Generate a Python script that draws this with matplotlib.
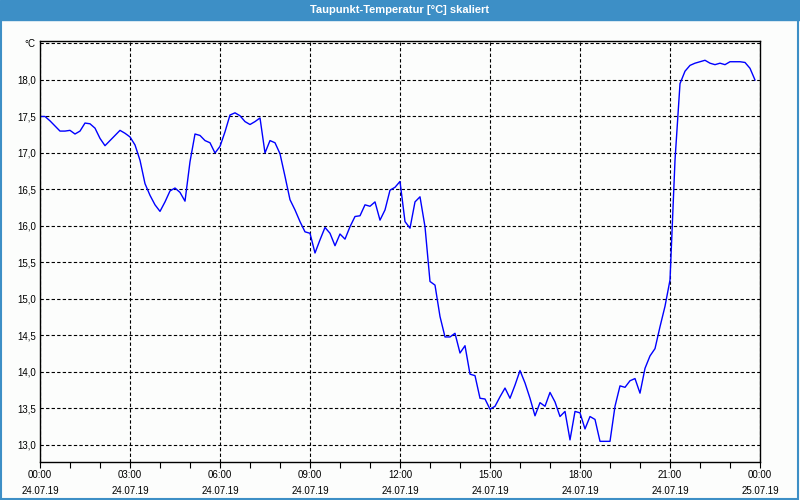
import numpy as np
import pandas as pd
import matplotlib
matplotlib.use("Agg")
import matplotlib.pyplot as plt
import matplotlib.dates as mdates

title = "Taupunkt-Temperatur [°C] skaliert"
start = "2019-07-24 00:00"
end = "2019-07-25 00:00"

# dew point, one reading every 10 minutes
dewpoint = [
    17.50, 17.50, 17.44, 17.37, 17.30, 17.30, 17.31, 17.26, 17.30, 17.41,
    17.40, 17.34, 17.20, 17.10, 17.17, 17.24, 17.31, 17.27, 17.22, 17.11,
    16.90, 16.58, 16.42, 16.29, 16.20, 16.33, 16.48, 16.52, 16.46, 16.34,
    16.88, 17.26, 17.24, 17.17, 17.14, 17.00, 17.09, 17.29, 17.52, 17.55,
    17.51, 17.43, 17.39, 17.43, 17.48, 17.00, 17.17, 17.14, 16.99, 16.68,
    16.36, 16.22, 16.06, 15.92, 15.90, 15.63, 15.81, 15.98, 15.90, 15.73,
    15.89, 15.82, 15.99, 16.13, 16.14, 16.29, 16.27, 16.33, 16.08, 16.22,
    16.49, 16.53, 16.61, 16.06, 15.97, 16.33, 16.40, 15.99, 15.24, 15.19,
    14.76, 14.48, 14.48, 14.53, 14.26, 14.36, 13.97, 13.95, 13.64, 13.63,
    13.49, 13.53, 13.66, 13.78, 13.64, 13.82, 14.02, 13.85, 13.64, 13.40,
    13.58, 13.53, 13.72, 13.59, 13.39, 13.46, 13.07, 13.46, 13.44, 13.22,
    13.39, 13.35, 13.05, 13.05, 13.05, 13.53, 13.81, 13.79, 13.88, 13.91,
    13.71, 14.05, 14.22, 14.32, 14.62, 14.90, 15.26, 16.90, 17.95, 18.12,
    18.20, 18.23, 18.25, 18.27, 18.23, 18.21, 18.23, 18.21, 18.25, 18.25,
    18.25, 18.24, 18.16, 18.00,
]
y_ticks = [13.0, 13.5, 14.0, 14.5, 15.0, 15.5, 16.0, 16.5, 17.0, 17.5, 18.0, 18.5]
y_labels = ["13,0", "13,5", "14,0", "14,5", "15,0", "15,5", "16,0", "16,5",
            "17,0", "17,5", "18,0", "°C"]

times = pd.date_range(start, periods=len(dewpoint), freq="10min")

plt.rcParams["font.family"] = ["Liberation Sans", "DejaVu Sans"]

bg = "#fcfdfc"
blue = "#3d8fc6"

fig = plt.figure(figsize=(8, 5), dpi=100, facecolor=bg)

# title bar and window border
fig.patches.append(plt.Rectangle((0, 1 - 20 / 500), 1, 20 / 500, transform=fig.transFigure,
                                 color=blue, zorder=0))
fig.patches.append(plt.Rectangle((0.5 / 800, 1.5 / 500), 1 - 2.5 / 800, 1 - 3 / 500,
                                 transform=fig.transFigure, fill=False, ec=blue, lw=1.5, zorder=0))
fig.text(0.5, 1 - 10 / 500, title, color="white", fontsize=8, fontweight="bold",
         ha="center", va="center")

ax = fig.add_axes([40 / 800, 38 / 500, 720 / 800, 421 / 500])
ax.set_facecolor(bg)
ax.plot(times, dewpoint, color="#0000ff", lw=1.0)

ax.set_xlim(pd.Timestamp(start), pd.Timestamp(end))
ax.set_ylim(12.767, 18.534)

ax.xaxis.set_major_locator(mdates.HourLocator(byhour=range(0, 24, 3)))
ax.xaxis.set_minor_locator(mdates.HourLocator())
ax.xaxis.set_major_formatter(mdates.DateFormatter("%H:%M\n%d.%m.%y"))
ax.set_yticks(y_ticks)
ax.set_yticklabels(y_labels)

ax.grid(True, which="major", color="black", ls=(0, (3, 2)), lw=0.8)
ax.tick_params(axis="x", which="both", direction="out", length=4, width=0.8,
               labelsize=7, pad=1.5)
ax.tick_params(axis="y", length=0, labelsize=7, pad=3)
for label in ax.get_xticklabels():
    label.set_linespacing(1.85)
for s in ax.spines.values():
    s.set_linewidth(1.0)

fig.savefig("out.png", dpi=100, facecolor=bg)
